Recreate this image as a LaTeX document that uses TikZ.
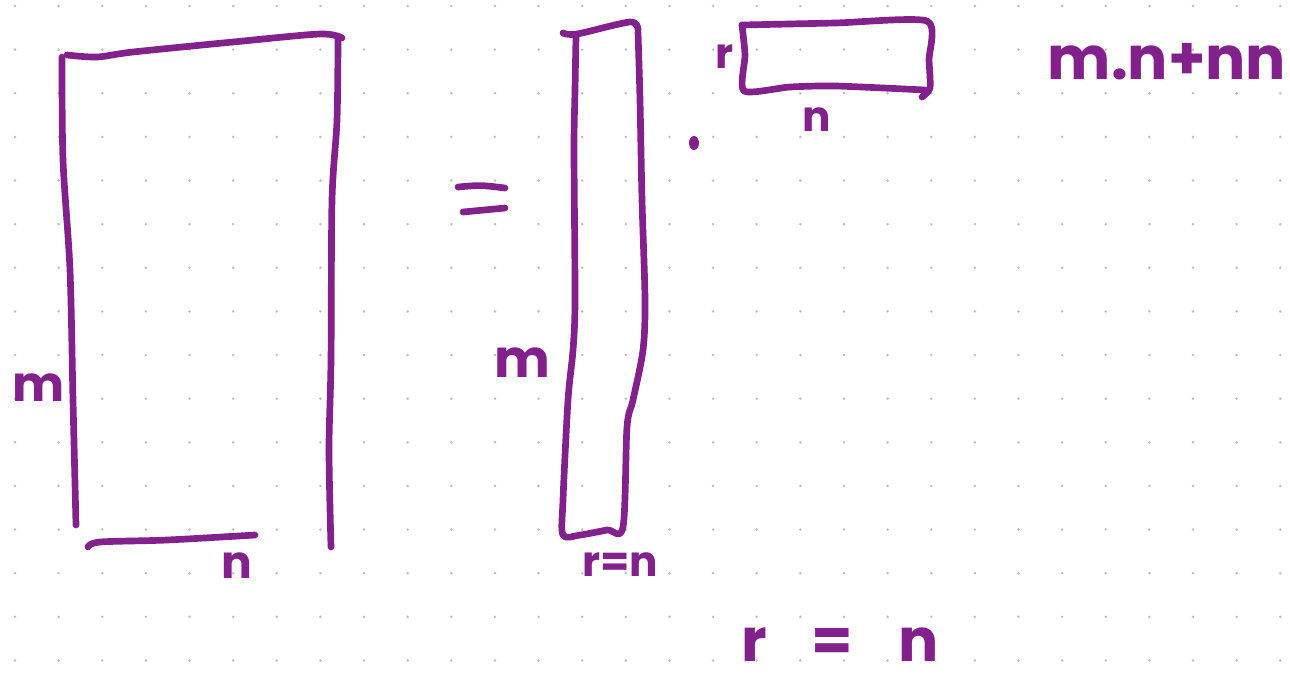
\documentclass[tikz,border=0pt]{standalone}
\usepackage{fontspec}
\setmainfont{Poppins}
\usepackage{xcolor}
\definecolor{ink}      {HTML}{82208C}
\definecolor{gridDot}  {HTML}{BDBDBD}
\tikzset{
    pen/.style={draw=ink, line width=3.8pt, line cap=round, line join=round},
    scrawl/.style={text=ink, inner sep=0pt},
}
\newcommand{\fs}[1]{\fontsize{#1}{#1}\selectfont\bfseries}

\begin{document}
\begin{tikzpicture}[x=0.02cm, y=-0.02cm]
\useasboundingbox[fill=white] (0,0) rectangle (1290,698);

% --- dotted paper ---
\foreach \i in {0,...,29}
  \foreach \j in {0,...,15}
    \fill[gridDot] (15+43.63*\i, 6+43.63*\j) circle (1.4);

% --- big m x n matrix ---
\draw[pen] plot[smooth, tension=0.5] coordinates
    {(62,57) (63,160) (70,270) (73,400) (76,525)};
\draw[pen] plot[smooth, tension=0.5] coordinates
    {(67,55) (97,57) (133,52) (233,42) (320,34) (342,38)};
\draw[pen] plot[smooth, tension=0.5] coordinates
    {(338,38) (337,120) (332,200) (331,360) (329,450) (331,547)};
\draw[pen] plot[smooth, tension=0.5] coordinates
    {(88,547) (100,542) (167,540) (255,535)};
\node[scrawl, font=\fs{28}] (mBig) at (39,388) {m};
\node[scrawl, font=\fs{26}] (nBig) at (237,566) {n};

% --- equals sign ---
\draw[pen] (458,187) .. controls (480,185) .. (505,188);
\draw[pen] (463,212) -- (505,208);

% --- tall m x r factor ---
\draw[pen] plot[smooth, tension=0.5] coordinates
    {(563,33) (577,34) (630,22) (638,30)};
\draw[pen] plot[smooth, tension=0.5] coordinates
    {(576,36) (575,90) (574,150) (575,300) (573,350) (568,400) (563,500) (563,535)
     (580,535) (607,530) (623,527) (627,427) (633,400) (643,350) (645,300)
     (642,200) (640,100) (638,32)};
\node[scrawl, font=\fs{30}] (mTall) at (522,363) {m};
\node[scrawl, font=\fs{24}] (rnTall) at (620,565) {r=n};

% --- product dot ---
\fill[ink] (694,143) ellipse (5 and 7);

% --- wide r x n factor ---
\draw[pen] plot[smooth, tension=0.4] coordinates
    {(742,25) (835,23) (927,21) (929,60) (930,88) (922,97)};
\draw[pen] plot[smooth, tension=0.4] coordinates
    {(742,25) (745,55) (744,91) (790,87) (836,86) (925,90)};
\node[scrawl, font=\fs{24}] (rWide) at (725,57) {r};
\node[scrawl, font=\fs{24}] (nWide) at (817,120) {n};

% --- notes ---
\node[scrawl, font=\fs{34}] (cost) at (1167,62) {m.n+nn};
\node[scrawl, font=\fs{34}] (rEq) at (840,645) {r\hspace{0.9cm}=\hspace{0.9cm}n};
\end{tikzpicture}
\end{document}
